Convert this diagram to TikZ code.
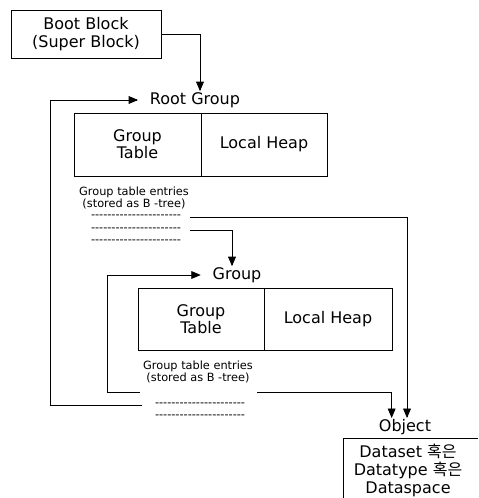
\documentclass[tikz,border=0pt]{standalone}
\usepackage{fontspec}
\setmainfont{DejaVu Sans}
\newfontfamily\kofont{Noto Sans CJK KR}
\usepackage{tikz}
\usetikzlibrary{arrows,positioning}

\newcommand{\entryrow}{\foreach \k in {1,...,22}{-}}

\begin{document}
\begin{tikzpicture}[x=0.75pt,y=0.75pt,yscale=-1,xscale=1,
  box/.style={draw,line width=0.6pt,inner sep=0pt,outer sep=0pt,align=center,font=\fontsize{12}{13}\selectfont},
  lbl/.style={inner sep=0.75pt,font=\fontsize{12}{14}\selectfont},
  entries/.style={inner sep=0.75pt,align=center,font=\fontsize{8.5}{8}\selectfont},
  entryline/.style={inner sep=0.75pt,font=\fontsize{8.5}{9}\selectfont},
  link/.style={line width=0.6pt,-triangle 45}]
\path[use as bounding box] (0,0) rectangle (478,498);

%Shape: Rectangle [boot block]
\node[box,minimum width=112.5pt,minimum height=36pt] (boot) at (86,34) {Boot Block\\(Super Block)};

% Text Node
\node[lbl] (rootlbl) at (195,100) {Root Group};
%Shape: Rectangle [root group]
\node[box,minimum width=95.25pt,minimum height=47.25pt] (rtable) at (137.5,144.5) {Group\\Table};
\node[box,minimum width=94.5pt,minimum height=47.25pt,right=0pt of rtable] (rheap) {Local Heap};
% Text Node
\node[entries] (rent) at (134,198) {Group table entries\\(stored as B -tree)};
\node[entryline] (r1) at (136,217) {\entryrow};
\node[entryline] (r2) at (136,230) {\entryrow};
\node[entryline] (r3) at (136,242) {\entryrow};

% Text Node
\node[lbl] (grplbl) at (237,275) {Group};
%Shape: Rectangle [group]
\node[box,minimum width=94.5pt,minimum height=46.5pt] (gtable) at (201,319) {Group\\Table};
\node[box,minimum width=96pt,minimum height=46.5pt,right=0pt of gtable] (gheap) {Local Heap};
% Text Node
\node[entries] (gent) at (198,372) {Group table entries\\(stored as B -tree)};
\node[entryline] (g1) at (200,405) {\entryrow};
\node[entryline] (g2) at (200,417) {\entryrow};
\coordinate (gl) at (140,392);
\coordinate (gr) at (257,392);

% Text Node
\node[lbl] (objlbl) at (405,427) {Object};
%Shape: Rectangle [object, cut by the page]
\draw[line width=0.6pt] (343,498) |- (478,438);
\node[lbl,align=center,font=\fontsize{12}{13.5}\selectfont] (objtxt) at (408,470) {Dataset {\kofont 혹은}\\Datatype {\kofont 혹은}\\Dataspace};

%Straight Lines
\draw[link] (boot.east) -| ([xshift=3.75pt]rootlbl.north);
\draw[link,shorten <=9pt,shorten >=8pt] (g1.west) -- ++(-103,0) |- (rootlbl.west);
\draw[link,shorten <=6pt] (r1.east) -| ([xshift=1.5pt]objlbl.north);
\draw[link,shorten <=6pt] (r2.east) -| ([xshift=-3.75pt]grplbl.north);
\draw[link,shorten >=8pt] (gl) -- ++(-33,0) |- (grplbl.west);
\draw[link] (gr) -| ([xshift=-10pt]objlbl.north);

\end{tikzpicture}
\end{document}
